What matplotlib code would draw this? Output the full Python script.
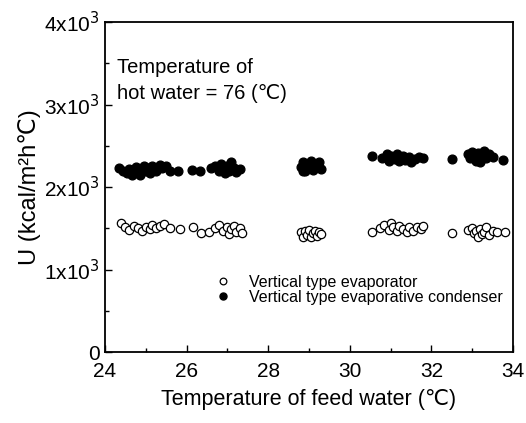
# Load libraries
import numpy as np
import matplotlib
matplotlib.use('Agg')
import matplotlib.pyplot as plt
from matplotlib.ticker import MultipleLocator, FixedLocator

plt.rcParams['font.family'] = ['Liberation Sans', 'DejaVu Sans']

# Vertical type evaporative condenser (filled dots)
cond_t = [24.35, 24.45, 24.55, 24.6, 24.65, 24.7, 24.75, 24.8, 24.85, 24.9, 24.95,
          25.0, 25.05, 25.1, 25.15, 25.2, 25.25, 25.3, 25.35, 25.4, 25.5,
          25.6, 25.8, 26.13, 26.33,
          26.6, 26.7, 26.8, 26.85, 26.9, 26.95, 27.0, 27.05, 27.1, 27.15, 27.2, 27.3,
          28.8, 28.85, 28.9, 28.95, 29.0, 29.05, 29.1, 29.15, 29.2, 29.25, 29.3, 28.85,
          30.55,
          30.8, 30.9, 30.95, 31.0, 31.1, 31.15, 31.2, 31.3, 31.35, 31.45, 31.5, 31.6, 31.7, 31.8,
          32.5,
          32.9, 32.95, 33.0, 33.05, 33.1, 33.15, 33.2, 33.25, 33.3, 33.35, 33.4, 33.5, 33.75]
cond_u = [2230, 2200, 2170, 2220, 2150, 2190, 2240, 2180, 2140, 2210, 2250,
          2190, 2230, 2170, 2260, 2220, 2190, 2240, 2270, 2230, 2250,
          2200, 2200, 2210, 2200,
          2230, 2250, 2200, 2280, 2220, 2170, 2260, 2190, 2300, 2230, 2180, 2220,
          2240, 2300, 2200, 2270, 2230, 2310, 2210, 2280, 2240, 2300, 2220, 2190,
          2370,
          2350, 2400, 2320, 2380, 2340, 2400, 2310, 2370, 2330, 2360, 2300, 2340, 2360, 2350,
          2340,
          2400, 2350, 2430, 2370, 2320, 2410, 2300, 2380, 2440, 2350, 2400, 2360, 2330]

# Vertical type evaporator (open circles)
evap_t = [24.4, 24.5, 24.6, 24.7, 24.8, 24.9, 25.0, 25.1, 25.15, 25.25, 25.35, 25.45,
          25.6, 25.85, 26.15, 26.35, 26.55,
          26.7, 26.8, 26.9, 27.0, 27.05, 27.1, 27.15, 27.2, 27.3, 27.35,
          28.8, 28.85, 28.9, 28.95, 29.0, 29.05, 29.1, 29.15, 29.2, 29.25, 29.3,
          30.55,
          30.75, 30.85, 30.95, 31.0, 31.05, 31.15, 31.2, 31.3, 31.4, 31.45, 31.55, 31.65, 31.75, 31.8,
          32.5,
          32.9, 33.0, 33.05, 33.1, 33.15, 33.2, 33.25, 33.3, 33.35, 33.4, 33.5, 33.6, 33.8]
evap_u = [1560, 1510, 1480, 1530, 1500, 1470, 1520, 1490, 1540, 1500, 1530, 1550,
          1500, 1490, 1510, 1440, 1450,
          1500, 1540, 1470, 1510, 1430, 1490, 1530, 1460, 1500, 1440,
          1450, 1400, 1470, 1420, 1480, 1390, 1440, 1470, 1410, 1450, 1430,
          1460,
          1500, 1540, 1480, 1560, 1510, 1470, 1530, 1490, 1450, 1510, 1470, 1520, 1490, 1530,
          1440,
          1480, 1500, 1440, 1470, 1400, 1490, 1430, 1460, 1510, 1420, 1470, 1450, 1450]

y_ticks = [0, 1000, 2000, 3000, 4000]
y_labels = ['0', r'1x10$^3$', r'2x10$^3$', r'3x10$^3$', r'4x10$^3$']

# Make the figure
fig = plt.figure(figsize=(5.26, 4.23), dpi=100)
ax = fig.add_axes([0.1996, 0.1678, 0.7757, 0.7802])

ax.plot(evap_t, evap_u, 'o', mfc='white', mec='black', ms=6, mew=0.9,
        label='Vertical type evaporator')
ax.plot(cond_t, cond_u, 'o', mfc='black', mec='black', ms=6.3,
        label='Vertical type evaporative condenser')

ax.set_xlim(24, 34)
ax.set_ylim(0, 4000)
ax.xaxis.set_major_locator(MultipleLocator(2))
ax.xaxis.set_minor_locator(MultipleLocator(1))
ax.yaxis.set_major_locator(FixedLocator(y_ticks))
ax.yaxis.set_minor_locator(MultipleLocator(500))
ax.set_yticklabels(y_labels)

ax.tick_params(which='both', direction='in', labelsize=15)
ax.tick_params(which='major', length=5, width=1)
ax.tick_params(which='minor', length=3, width=1)
ax.tick_params(axis='x', pad=7)
ax.tick_params(axis='y', pad=4)
for s in ax.spines.values():
    s.set_linewidth(1.3)

ax.set_xlabel('Temperature of feed water (\u2103)', fontsize=15.5, labelpad=6)
ax.set_ylabel('U (kcal/m\u00b2h\u2103)', fontsize=17, labelpad=2)

ax.text(24.3, 3560, 'Temperature of\nhot water = 76 (\u2103)', fontsize=14.5,
        va='top', ha='left', linespacing=1.45)

ax.legend(loc='lower right', bbox_to_anchor=(1.01, 0.1), frameon=False,
          fontsize=11.5, handletextpad=0.6, labelspacing=0.0, markerscale=0.8)

plt.savefig('out.png', dpi=100)
